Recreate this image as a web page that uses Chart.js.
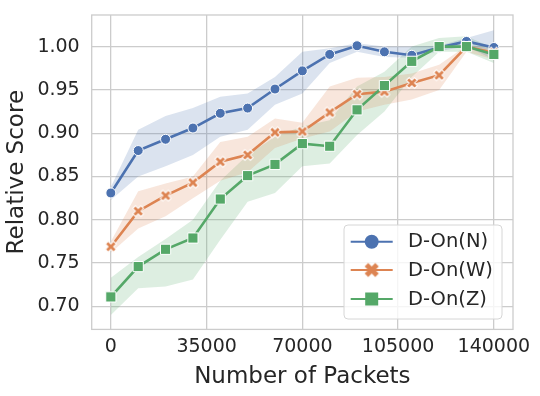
<!DOCTYPE html>
<html><head><meta charset="utf-8">
<script src="https://cdn.jsdelivr.net/npm/chart.js@4/dist/chart.umd.min.js"></script>
<style>html,body{margin:0;padding:0;background:#fff}#wrap{width:540px;height:396px;position:relative}</style>
</head><body><div id="wrap"><canvas id="c" width="540" height="396"></canvas></div>
<script>
// ---- data ----
const packets = [0,10000,20000,30000,40000,50000,60000,70000,80000,90000,100000,110000,120000,130000,140000];
const seriesNames = ['D-On(N)','D-On(W)','D-On(Z)'];

const meanN = [0.831,0.880,0.893,0.906,0.923,0.929,0.951,0.972,0.991,1.001,0.994,0.990,0.999,1.006,0.999];
const highN = [0.838,0.904,0.920,0.929,0.942,0.946,0.965,0.994,0.998,1.004,1.000,1.000,1.001,1.010,1.019];
const lowN  = [0.823,0.850,0.862,0.875,0.896,0.904,0.933,0.946,0.981,0.994,0.988,0.987,0.995,1.000,0.985];

const meanW = [0.769,0.810,0.828,0.843,0.867,0.875,0.901,0.902,0.924,0.945,0.948,0.958,0.967,1.000,0.993];
const highW = [0.775,0.833,0.842,0.850,0.890,0.896,0.917,0.912,0.954,0.964,0.965,0.969,0.979,1.001,0.998];
const lowW  = [0.762,0.790,0.804,0.825,0.845,0.855,0.883,0.894,0.902,0.925,0.933,0.939,0.950,0.994,0.985];

const meanZ = [0.711,0.746,0.766,0.779,0.824,0.851,0.864,0.888,0.885,0.927,0.955,0.983,1.000,1.000,0.991];
const highZ = [0.733,0.757,0.778,0.800,0.845,0.875,0.896,0.908,0.915,0.954,0.971,1.000,1.010,1.012,0.998];
const lowZ  = [0.690,0.721,0.723,0.731,0.777,0.821,0.831,0.862,0.865,0.898,0.925,0.965,0.994,0.994,0.981];

const xTickValues = [0,35000,70000,105000,140000];
const yTickValues = [0.70,0.75,0.80,0.85,0.90,0.95,1.00];
const xTitle = 'Number of Packets';
const yTitle = 'Relative Score';

// ---- styling ----
const COLORS = ['#4C72B0','#DD8452','#55A868'];
const BANDS = ['rgba(76,114,176,0.2)','rgba(221,132,82,0.2)','rgba(85,168,104,0.2)'];
const FONT = "'DejaVu Sans', sans-serif";
const TXT = '#262626';
const GRID = '#cccccc';
const AREA = {left:91.7, top:15, right:513, bottom:329.4};

function pts(arr){ return packets.map((x,i)=>({x:x, y:arr[i]})); }

function xMarker(span, color, edgeW){
  const dim = Math.ceil(span + 4);
  const cv = document.createElement('canvas'); cv.width = dim; cv.height = dim;
  const g = cv.getContext('2d');
  g.translate(dim/2, dim/2); g.rotate(Math.PI/4);
  const P = [[-1,-3],[1,-3],[1,-1],[3,-1],[3,1],[1,1],[1,3],[-1,3],[-1,1],[-3,1],[-3,-1],[-1,-1]];
  g.beginPath();
  P.forEach(([a,b],i)=>{ const X=a*span/6, Y=b*span/6; if(i) g.lineTo(X,Y); else g.moveTo(X,Y); });
  g.closePath();
  g.fillStyle = color; g.fill();
  if (edgeW){ g.lineWidth = edgeW; g.strokeStyle = '#fff'; g.lineJoin='miter'; g.stroke(); }
  return cv;
}
const xImg = xMarker(11.5, COLORS[1], 1);

function band(hi, lo, k){
  return [
    {data: pts(hi), borderWidth:0, pointRadius:0, backgroundColor:BANDS[k], fill:'+1', order:10, tension:0},
    {data: pts(lo), borderWidth:0, pointRadius:0, backgroundColor:BANDS[k], fill:false, order:10, tension:0}
  ];
}
const lineDatasets = [
  {label:seriesNames[0], data:pts(meanN), borderColor:COLORS[0], backgroundColor:COLORS[0], borderWidth:2.6,
   pointStyle:'circle', pointRadius:5, pointBorderColor:'#fff', pointBorderWidth:1, pointBackgroundColor:COLORS[0], fill:false, order:3},
  {label:seriesNames[1], data:pts(meanW), borderColor:COLORS[1], backgroundColor:COLORS[1], borderWidth:2.6,
   pointStyle:xImg, pointRadius:6, fill:false, order:2},
  {label:seriesNames[2], data:pts(meanZ), borderColor:COLORS[2], backgroundColor:COLORS[2], borderWidth:2.6,
   pointStyle:'rect', pointRadius:7.2, pointBorderColor:'#fff', pointBorderWidth:1, pointBackgroundColor:COLORS[2], fill:false, order:1}
];

const datasets = [].concat(band(highN,lowN,0), band(highW,lowW,1), band(highZ,lowZ,2), lineDatasets);

const framePlugin = {
  id:'frame',
  beforeDatasetsDraw(chart){
    const {ctx, chartArea:a} = chart;
    ctx.save(); ctx.strokeStyle = GRID; ctx.lineWidth = 1.3;
    ctx.strokeRect(a.left, a.top, a.right-a.left, a.bottom-a.top);
    ctx.restore();
  }
};

const legendPlugin = {
  id:'customLegend',
  afterDraw(chart){
    const {ctx, chartArea:a} = chart;
    const w = 158, h = 94;
    const x0 = a.right - 11 - w, y0 = a.bottom - 10.4 - h;
    ctx.save();
    ctx.beginPath();
    if (ctx.roundRect) ctx.roundRect(x0, y0, w, h, 4); else ctx.rect(x0,y0,w,h);
    ctx.fillStyle = 'rgba(255,255,255,0.8)'; ctx.fill();
    ctx.strokeStyle = '#d6d6d6'; ctx.lineWidth = 1; ctx.stroke();
    const rows = [16.7, 45, 74];
    ctx.font = "19.5px " + FONT; ctx.textBaseline = 'middle'; ctx.textAlign = 'left';
    rows.forEach((ry, k)=>{
      const y = y0 + ry;
      const lx0 = x0 + 6.7, lx1 = x0 + 48.7, mx = x0 + 27.7;
      ctx.strokeStyle = COLORS[k]; ctx.lineWidth = 2; ctx.beginPath(); ctx.moveTo(lx0,y); ctx.lineTo(lx1,y); ctx.stroke();
      ctx.fillStyle = COLORS[k];
      if (k===0){ ctx.beginPath(); ctx.arc(mx,y,7,0,Math.PI*2); ctx.fill(); }
      else if (k===1){ const im = xMarker(15, COLORS[1], 0); ctx.drawImage(im, mx-im.width/2, y-im.height/2); }
      else { ctx.fillRect(mx-6.5, y-6.5, 13, 13); }
      ctx.fillStyle = TXT; ctx.fillText(seriesNames[k], x0 + 64, y+0.5);
    });
    ctx.restore();
  }
};

const chart = new Chart(document.getElementById('c'), {
  type:'line',
  data:{datasets},
  options:{
    responsive:false, animation:false, devicePixelRatio:1,
    layout:{padding:{left:0, top:AREA.top, right:540-AREA.right, bottom:0}},
    plugins:{legend:{display:false}, tooltip:{enabled:false}},
    elements:{line:{tension:0}},
    scales:{
      x:{
        type:'linear', min:-7000, max:147000,
        afterBuildTicks(s){ s.ticks = xTickValues.map(v=>({value:v})); },
        afterFit(s){ s.height = 396 - AREA.bottom; s.paddingLeft = 0; s.paddingRight = 0; },
        ticks:{font:{family:FONT,size:19}, color:TXT, padding:6, maxRotation:0, autoSkip:false,
               callback:(v)=>String(v)},
        grid:{color:GRID, lineWidth:1.3, drawTicks:false},
        border:{display:false},
        title:{display:true, text:xTitle, font:{family:FONT,size:23}, color:TXT, padding:{top:0,bottom:5}}
      },
      y:{
        type:'linear', min:0.6735, max:1.0365,
        afterBuildTicks(s){ s.ticks = yTickValues.map(v=>({value:v})); },
        afterFit(s){ s.width = AREA.left; s.paddingTop = 0; s.paddingBottom = 0; },
        ticks:{font:{family:FONT,size:19}, color:TXT, padding:12, autoSkip:false,
               callback:(v)=>Number(v).toFixed(2)},
        grid:{color:GRID, lineWidth:1.3, drawTicks:false},
        border:{display:false},
        title:{display:true, text:yTitle, font:{family:FONT,size:23}, color:TXT, padding:{top:3,bottom:0}}
      }
    }
  },
  plugins:[framePlugin, legendPlugin]
});
</script></body></html>
